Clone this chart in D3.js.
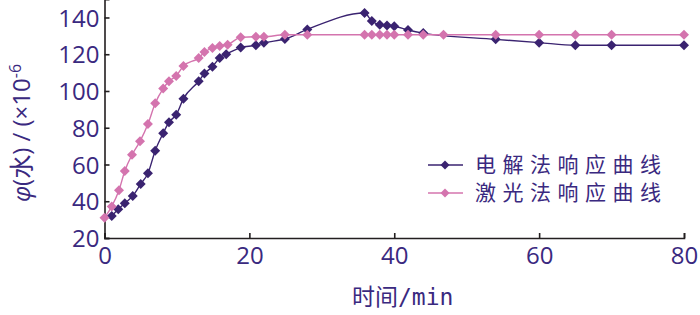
<!DOCTYPE html>
<html>
<head>
<meta charset="utf-8">
<script src="https://cdn.jsdelivr.net/npm/d3@7"></script>
<style>
  html, body { margin: 0; padding: 0; background: #fff; }
  svg { display: block; }
</style>
</head>
<body>
<div id="chart"></div>
<script>
// electrolysis response curve (dark)
const elecTime  = [1, 1.9, 2.8, 3.9, 5, 6, 7, 8.1, 8.9, 9.9, 10.9, 13, 13.8, 14.9, 15.9, 16.8, 18.8, 20.9, 22, 24.9, 28, 35.9, 36.9, 38, 39, 40, 41.9, 44, 54, 60, 65, 70, 80];
const elecValue = [32, 35.6, 38.9, 42.9, 49.4, 55.2, 67.5, 77, 83, 87.1, 95.8, 105.3, 109.5, 113.2, 118, 120, 123.6, 124.9, 126.2, 128.3, 133.5, 142.4, 138.1, 136.1, 135.6, 135.2, 133.2, 131.5, 128.1, 126.3, 124.9, 124.9, 124.9];

// laser response curve (pink)
const laserTime  = [0, 1, 2, 2.8, 3.8, 4.9, 6, 7, 8.1, 8.9, 9.9, 10.9, 13, 13.8, 14.9, 15.9, 17, 18.8, 20.9, 22, 24.9, 28, 35.9, 36.9, 38, 39, 40, 41.9, 44, 46.8, 54, 60, 65, 70, 80];
const laserValue = [31, 37.2, 46, 56.5, 65.3, 72.6, 82, 93.3, 101.3, 105.3, 108.2, 113.6, 118, 121.2, 123.4, 124.5, 125.2, 129.2, 129.5, 129.5, 130.6, 130.6, 130.6, 130.6, 130.6, 130.6, 130.6, 130.6, 130.6, 130.6, 130.6, 130.6, 130.6, 130.6, 130.6];

const xTicks = [0, 20, 40, 60, 80];
const yTicks = [20, 40, 60, 80, 100, 120, 140];
const seriesNames = ['电解法响应曲线', '激光法响应曲线'];

const W = 700, H = 315;
const textColor = '#3a2980';
const elecColor = '#3a2370';
const laserColor = '#d474ae';
const axisColor = '#231f20';

const svg = d3.select('#chart').append('svg')
  .attr('width', W).attr('height', H);

const x = d3.scaleLinear().domain([0, 80]).range([104.5, 684]);
const y = d3.scaleLinear().domain([20, 150]).range([238, -0.9]);

// axes, ticks point inward
const xAxis = svg.append('g')
  .attr('transform', `translate(0,${y(20)})`)
  .call(d3.axisBottom(x).tickValues(xTicks)
    .tickSizeInner(-5).tickSizeOuter(-5).tickPadding(9));

const yAxis = svg.append('g')
  .attr('transform', `translate(${x(0)},0)`)
  .call(d3.axisLeft(y).tickValues(yTicks)
    .tickSizeInner(-5).tickSizeOuter(-5).tickPadding(5));

[xAxis, yAxis].forEach(g => {
  g.selectAll('path, line').attr('stroke', axisColor).attr('stroke-width', 1.6);
  g.selectAll('text')
    .attr('fill', textColor)
    .attr('font-family', '"Open Sans", "Noto Sans", sans-serif')
    .attr('font-size', 24);
});
yAxis.selectAll('text').attr('dy', '0.36em');
xAxis.selectAll('text').attr('dy', '0.72em');

// series
const diamond = d3.symbol().type(d3.symbolSquare).size(50);
const line = d3.line().x(d => x(d.t)).y(d => y(d.v)).curve(d3.curveMonotoneX);

const elec = elecTime.map((t, i) => ({ t, v: elecValue[i] }));
const laser = laserTime.map((t, i) => ({ t, v: laserValue[i] }));

function drawSeries(data, color, lineWidth) {
  const g = svg.append('g');
  g.append('path')
    .datum(data)
    .attr('d', line)
    .attr('fill', 'none')
    .attr('stroke', color)
    .attr('stroke-width', lineWidth);
  g.selectAll('path.pt')
    .data(data)
    .join('path')
    .attr('class', 'pt')
    .attr('d', diamond)
    .attr('fill', color)
    .attr('transform', d => `translate(${x(d.t)},${y(d.v)}) rotate(45)`);
}

drawSeries(elec, elecColor, 1.4);
drawSeries(laser, laserColor, 1.4);

// legend
const legend = svg.append('g');
[elecColor, laserColor].forEach((c, i) => {
  const ly = 165 + i * 28;
  legend.append('line')
    .attr('x1', 428).attr('x2', 463).attr('y1', ly).attr('y2', ly)
    .attr('stroke', c).attr('stroke-width', 1.6);
  legend.append('path')
    .attr('d', d3.symbol().type(d3.symbolSquare).size(40))
    .attr('fill', c)
    .attr('transform', `translate(445,${ly}) rotate(45)`);
  legend.append('text')
    .attr('x', 475).attr('y', ly + 7)
    .attr('fill', textColor)
    .attr('font-family', '"Noto Sans CJK SC", sans-serif')
    .attr('font-size', 21)
    .attr('letter-spacing', 6.5)
    .text(seriesNames[i]);
});

// axis titles
const xt = svg.append('text')
  .attr('x', 352).attr('y', 305)
  .attr('fill', textColor)
  .attr('font-size', 23);
xt.append('tspan').attr('font-family', '"Noto Sans CJK SC", sans-serif').text('时间');
xt.append('tspan').attr('font-family', '"DejaVu Sans Mono", monospace').text('/min');

const yt = svg.append('text')
  .attr('transform', 'translate(30,133) rotate(-90)')
  .attr('text-anchor', 'middle')
  .attr('fill', textColor)
  .attr('font-size', 24)
  .attr('font-family', '"Open Sans", "Noto Sans CJK SC", sans-serif');
yt.append('tspan').attr('font-style', 'italic').text('φ');
yt.append('tspan').text('(');
yt.append('tspan').attr('font-family', '"Noto Sans CJK SC", sans-serif').text('水');
yt.append('tspan').text(') / (×10');
yt.append('tspan').attr('dy', -9).attr('font-size', 16).text('-6');
</script>
</body>
</html>
